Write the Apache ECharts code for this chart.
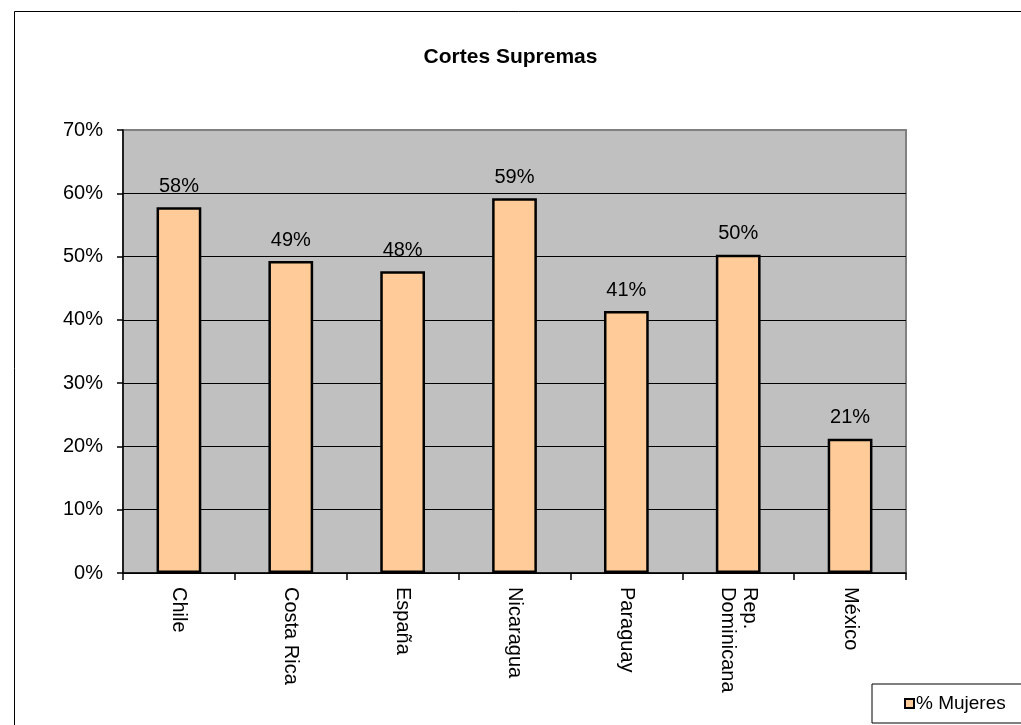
<!DOCTYPE html>
<html>
<head>
<meta charset="utf-8">
<script src="https://cdn.jsdelivr.net/npm/echarts@6/dist/echarts.min.js"></script>
<style>
html,body{margin:0;padding:0;background:#fff;}
#chart{width:1021px;height:725px;}
</style>
</head>
<body>
<div id="chart"></div>
<script>
const title = 'Cortes Supremas';
const categories = ['Chile', 'Costa Rica', 'España', 'Nicaragua', 'Paraguay', 'Rep.\nDominicana', 'México'];
const seriesName = '% Mujeres';
const values = [0.578, 0.493, 0.477, 0.592, 0.414, 0.503, 0.212];
const yTicks = [0, 0.1, 0.2, 0.3, 0.4, 0.5, 0.6, 0.7];

const chart = echarts.init(document.getElementById('chart'), null, {renderer: 'canvas'});
const FONT = '"Liberation Sans", Arial, sans-serif';
chart.setOption({
  animation: false,
  backgroundColor: '#fff',
  textStyle: {fontFamily: FONT},
  title: {
    text: title,
    left: 'center',
    top: 42,
    textStyle: {fontFamily: FONT, fontWeight: 'bold', fontSize: 21, color: '#000'}
  },
  graphic: [{
    type: 'rect',
    left: 12, top: 9,
    shape: {width: 1100, height: 800},
    style: {fill: 'none', stroke: '#000', lineWidth: 1},
    silent: true, z: -1
  }],
  legend: {
    data: [seriesName],
    left: 872, top: 684,
    backgroundColor: '#fff',
    borderColor: '#000', borderWidth: 1,
    padding: [10, 40, 10, 32],
    itemWidth: 9, itemHeight: 9, itemGap: 0,
    icon: 'rect',
    textStyle: {fontFamily: FONT, fontSize: 19, color: '#000', padding: [0, 0, 0, -3]}
  },
  grid: {
    left: 123, top: 130, right: 115, bottom: 152,
    show: true, backgroundColor: '#C0C0C0', borderColor: '#808080', borderWidth: 2
  },
  xAxis: {
    type: 'category',
    data: categories,
    axisLine: {lineStyle: {color: '#000', width: 1.5}},
    axisTick: {show: true, length: 7, lineStyle: {color: '#000', width: 1.5}},
    axisLabel: {rotate: -90, margin: 14, fontSize: 20, color: '#000', fontFamily: FONT, lineHeight: 22, interval: 0}
  },
  yAxis: {
    type: 'value',
    min: 0, max: 0.7, interval: 0.1,
    axisLine: {show: true, lineStyle: {color: '#000', width: 1.5}},
    axisTick: {show: true, length: 6, lineStyle: {color: '#000', width: 1.5}},
    axisLabel: {
      margin: 20, fontSize: 20, color: '#000', fontFamily: FONT,
      formatter: v => Math.round(v * 100) + '%'
    },
    splitLine: {show: true, lineStyle: {color: ['#000', '#000', '#000', '#000', '#000', '#000', '#000', '#808080'], width: 1.2}}
  },
  series: [{
    name: seriesName,
    type: 'bar',
    data: values,
    barWidth: '40%',
    itemStyle: {color: '#FFCC99', borderColor: '#000', borderWidth: 2.5},
    label: {
      show: true, position: 'top', distance: 11,
      fontSize: 20, color: '#000', fontFamily: FONT,
      formatter: p => Math.round(p.value * 100) + '%'
    }
  }]
});
</script>
</body>
</html>
